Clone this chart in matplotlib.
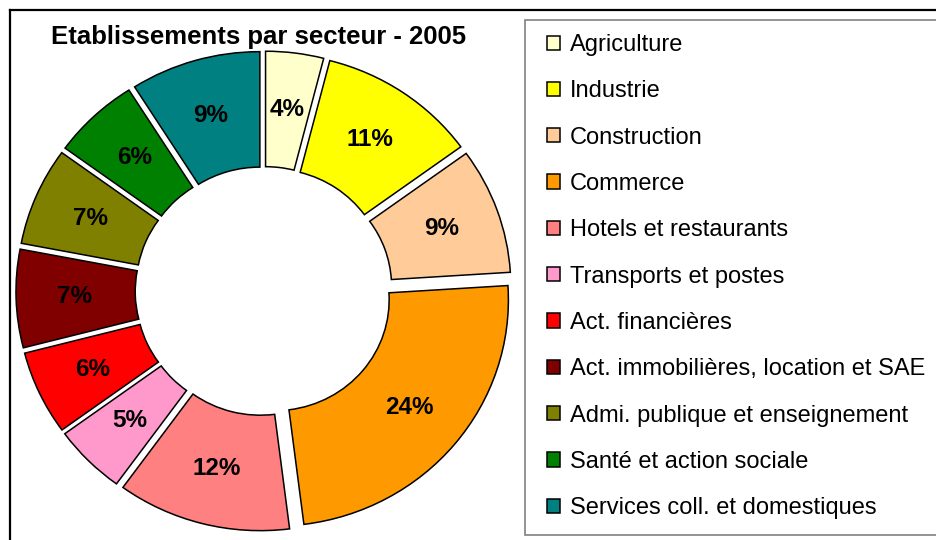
import matplotlib.pyplot as plt
from matplotlib.lines import Line2D
from matplotlib.patches import Rectangle

plt.rcParams['font.family'] = ['Liberation Sans', 'DejaVu Sans']

secteurs = ['Agriculture', 'Industrie', 'Construction', 'Commerce',
            'Hotels et restaurants', 'Transports et postes', 'Act. financières',
            'Act. immobilières, location et SAE', 'Admi. publique et enseignement',
            'Santé et action sociale', 'Services coll. et domestiques']
parts = [4, 11, 9, 24, 12, 5, 6, 7, 7, 6, 9]
couleurs = ['#FFFFCC', '#FFFF00', '#FFCC99', '#FF9900', '#FF8080', '#FF99CC',
            '#FF0000', '#800000', '#808000', '#008000', '#008080']

W, H = 936, 540
fig = plt.figure(figsize=(W / 100, H / 100), dpi=100)

# donut axes (slightly wider than tall, like the original)
ax = fig.add_axes([11.3 / W, 4.4 / H, 505 / W, 489 / H])
wedges, texts, autotexts = ax.pie(
    parts, colors=couleurs, startangle=90, counterclock=False,
    explode=[0.06] * len(parts), autopct='%.0f%%', pctdistance=0.75,
    wedgeprops=dict(width=0.51, edgecolor='black', linewidth=1.1),
    textprops=dict(fontsize=17.5, fontweight='bold', color='black'))
ax.set_aspect('auto')
ax.set_xlim(-1.08, 1.08)
ax.set_ylim(-1.08, 1.08)

fig.text(259 / W, 1 - 44 / H, 'Etablissements par secteur - 2005',
         ha='center', va='baseline', fontsize=18.5, fontweight='bold')

# outer frame (top and left visible)
fig.add_artist(Line2D([10 / W, 1], [1 - 10 / H, 1 - 10 / H], color='black', lw=1.6))
fig.add_artist(Line2D([10 / W, 10 / W], [0, 1 - 10 / H], color='black', lw=1.6))

# legend box
fig.add_artist(Rectangle((525 / W, 1 - 535 / H), (W - 525 + 5) / W, 515 / H,
                         transform=fig.transFigure, facecolor='white',
                         edgecolor='#808080', lw=1.2))

leg = fig.legend(wedges, secteurs, loc='upper left',
                 bbox_to_anchor=(547 / W, 1 - 34 / H), frameon=False,
                 borderpad=0, borderaxespad=0, fontsize=17,
                 handlelength=0.55, handleheight=0.55, handletextpad=0.42,
                 labelspacing=1.03)
for h in leg.legend_handles:
    h.set_linewidth(1.1)

fig.savefig('out.png', dpi=100)
